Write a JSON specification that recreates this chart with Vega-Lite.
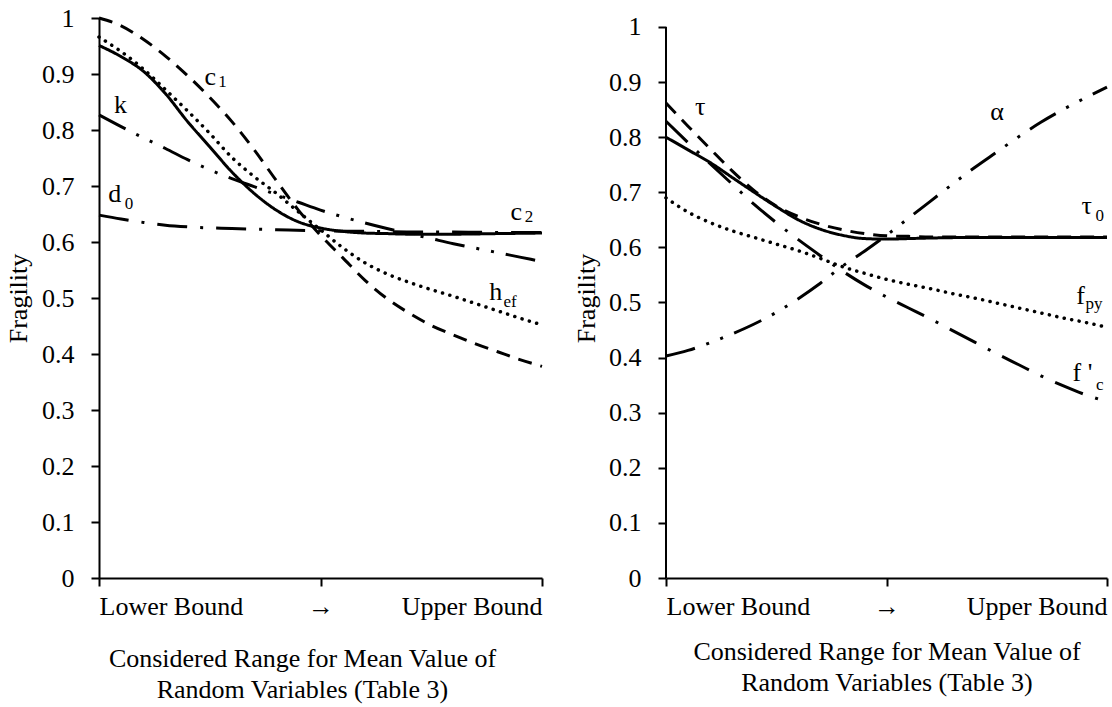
{
  "$schema": "https://vega.github.io/schema/vega-lite/v6.json",
  "background": "white",
  "padding": {"left": 5, "top": 5, "right": 5, "bottom": 5},
  "spacing": 124,
  "bounds": "flush",
  "config": {
    "view": {"stroke": null},
    "font": "Liberation Serif",
    "axis": {
      "grid": false,
      "domainColor": "black",
      "domainWidth": 2,
      "tickColor": "black",
      "tickWidth": 2,
      "tickSize": 8,
      "labelColor": "black",
      "labelFont": "Liberation Serif",
      "labelFontSize": 26,
      "titleColor": "black",
      "titleFont": "Liberation Serif",
      "titleFontSize": 26,
      "titleFontWeight": "normal"
    }
  },
  "datasets": {
    "leftLines": [
      {"s": "c1", "x": 0, "y": 1.0}, {"s": "c1", "x": 0.05, "y": 0.986}, {"s": "c1", "x": 0.1, "y": 0.962}, {"s": "c1", "x": 0.15, "y": 0.932}, {"s": "c1", "x": 0.2, "y": 0.897}, {"s": "c1", "x": 0.25, "y": 0.858}, {"s": "c1", "x": 0.3, "y": 0.815}, {"s": "c1", "x": 0.35, "y": 0.765}, {"s": "c1", "x": 0.4, "y": 0.71}, {"s": "c1", "x": 0.45, "y": 0.657}, {"s": "c1", "x": 0.5, "y": 0.612}, {"s": "c1", "x": 0.55, "y": 0.572}, {"s": "c1", "x": 0.6, "y": 0.532}, {"s": "c1", "x": 0.65, "y": 0.499}, {"s": "c1", "x": 0.7, "y": 0.473}, {"s": "c1", "x": 0.75, "y": 0.451}, {"s": "c1", "x": 0.8, "y": 0.434}, {"s": "c1", "x": 0.85, "y": 0.418}, {"s": "c1", "x": 0.9, "y": 0.404}, {"s": "c1", "x": 0.95, "y": 0.39}, {"s": "c1", "x": 1, "y": 0.378},
      {"s": "c2", "x": 0, "y": 0.951}, {"s": "c2", "x": 0.05, "y": 0.931}, {"s": "c2", "x": 0.1, "y": 0.905}, {"s": "c2", "x": 0.15, "y": 0.865}, {"s": "c2", "x": 0.2, "y": 0.815}, {"s": "c2", "x": 0.25, "y": 0.77}, {"s": "c2", "x": 0.3, "y": 0.725}, {"s": "c2", "x": 0.35, "y": 0.687}, {"s": "c2", "x": 0.4, "y": 0.657}, {"s": "c2", "x": 0.45, "y": 0.636}, {"s": "c2", "x": 0.5, "y": 0.625}, {"s": "c2", "x": 0.55, "y": 0.619}, {"s": "c2", "x": 0.6, "y": 0.616}, {"s": "c2", "x": 0.65, "y": 0.615}, {"s": "c2", "x": 0.7, "y": 0.614}, {"s": "c2", "x": 0.8, "y": 0.614}, {"s": "c2", "x": 0.9, "y": 0.615}, {"s": "c2", "x": 1, "y": 0.616},
      {"s": "h_ef", "x": 0, "y": 0.966}, {"s": "h_ef", "x": 0.05, "y": 0.94}, {"s": "h_ef", "x": 0.1, "y": 0.909}, {"s": "h_ef", "x": 0.15, "y": 0.872}, {"s": "h_ef", "x": 0.2, "y": 0.834}, {"s": "h_ef", "x": 0.25, "y": 0.794}, {"s": "h_ef", "x": 0.3, "y": 0.751}, {"s": "h_ef", "x": 0.35, "y": 0.717}, {"s": "h_ef", "x": 0.4, "y": 0.687}, {"s": "h_ef", "x": 0.45, "y": 0.654}, {"s": "h_ef", "x": 0.5, "y": 0.622}, {"s": "h_ef", "x": 0.55, "y": 0.59}, {"s": "h_ef", "x": 0.6, "y": 0.563}, {"s": "h_ef", "x": 0.65, "y": 0.543}, {"s": "h_ef", "x": 0.7, "y": 0.528}, {"s": "h_ef", "x": 0.75, "y": 0.515}, {"s": "h_ef", "x": 0.8, "y": 0.503}, {"s": "h_ef", "x": 0.85, "y": 0.49}, {"s": "h_ef", "x": 0.9, "y": 0.477}, {"s": "h_ef", "x": 0.95, "y": 0.464}, {"s": "h_ef", "x": 1, "y": 0.452},
      {"s": "k", "x": 0, "y": 0.827}, {"s": "k", "x": 0.05, "y": 0.806}, {"s": "k", "x": 0.1, "y": 0.786}, {"s": "k", "x": 0.15, "y": 0.767}, {"s": "k", "x": 0.2, "y": 0.747}, {"s": "k", "x": 0.25, "y": 0.729}, {"s": "k", "x": 0.3, "y": 0.713}, {"s": "k", "x": 0.35, "y": 0.699}, {"s": "k", "x": 0.4, "y": 0.685}, {"s": "k", "x": 0.45, "y": 0.671}, {"s": "k", "x": 0.5, "y": 0.657}, {"s": "k", "x": 0.55, "y": 0.645}, {"s": "k", "x": 0.6, "y": 0.634}, {"s": "k", "x": 0.65, "y": 0.624}, {"s": "k", "x": 0.7, "y": 0.615}, {"s": "k", "x": 0.75, "y": 0.606}, {"s": "k", "x": 0.8, "y": 0.597}, {"s": "k", "x": 0.85, "y": 0.589}, {"s": "k", "x": 0.9, "y": 0.581}, {"s": "k", "x": 0.95, "y": 0.573}, {"s": "k", "x": 1, "y": 0.565},
      {"s": "d0", "x": 0, "y": 0.648}, {"s": "d0", "x": 0.05, "y": 0.641}, {"s": "d0", "x": 0.1, "y": 0.635}, {"s": "d0", "x": 0.15, "y": 0.63}, {"s": "d0", "x": 0.2, "y": 0.627}, {"s": "d0", "x": 0.3, "y": 0.624}, {"s": "d0", "x": 0.4, "y": 0.622}, {"s": "d0", "x": 0.5, "y": 0.62}, {"s": "d0", "x": 0.6, "y": 0.619}, {"s": "d0", "x": 0.7, "y": 0.618}, {"s": "d0", "x": 0.8, "y": 0.618}, {"s": "d0", "x": 0.9, "y": 0.617}, {"s": "d0", "x": 1, "y": 0.617}
    ],
    "leftLabels": [
      {"t": "c", "x": 0.238, "y": 0.881},
      {"t": "k", "x": 0.034, "y": 0.83},
      {"t": "d", "x": 0.021, "y": 0.672},
      {"t": "c", "x": 0.929, "y": 0.64},
      {"t": "h", "x": 0.881, "y": 0.497}
    ],
    "leftSubs": [
      {"t": "1", "x": 0.269, "y": 0.876},
      {"t": "0", "x": 0.058, "y": 0.659},
      {"t": "2", "x": 0.961, "y": 0.635},
      {"t": "ef", "x": 0.913, "y": 0.484}
    ],
    "rightLines": [
      {"s": "tau", "x": 0, "y": 0.862}, {"s": "tau", "x": 0.05, "y": 0.82}, {"s": "tau", "x": 0.1, "y": 0.779}, {"s": "tau", "x": 0.15, "y": 0.739}, {"s": "tau", "x": 0.2, "y": 0.703}, {"s": "tau", "x": 0.25, "y": 0.675}, {"s": "tau", "x": 0.3, "y": 0.656}, {"s": "tau", "x": 0.35, "y": 0.642}, {"s": "tau", "x": 0.4, "y": 0.632}, {"s": "tau", "x": 0.45, "y": 0.625}, {"s": "tau", "x": 0.5, "y": 0.621}, {"s": "tau", "x": 0.55, "y": 0.62}, {"s": "tau", "x": 0.6, "y": 0.619}, {"s": "tau", "x": 0.7, "y": 0.619}, {"s": "tau", "x": 0.8, "y": 0.619}, {"s": "tau", "x": 0.9, "y": 0.619}, {"s": "tau", "x": 1, "y": 0.619},
      {"s": "tau0", "x": 0, "y": 0.8}, {"s": "tau0", "x": 0.05, "y": 0.777}, {"s": "tau0", "x": 0.1, "y": 0.754}, {"s": "tau0", "x": 0.15, "y": 0.727}, {"s": "tau0", "x": 0.2, "y": 0.7}, {"s": "tau0", "x": 0.25, "y": 0.674}, {"s": "tau0", "x": 0.3, "y": 0.65}, {"s": "tau0", "x": 0.35, "y": 0.633}, {"s": "tau0", "x": 0.4, "y": 0.622}, {"s": "tau0", "x": 0.45, "y": 0.616}, {"s": "tau0", "x": 0.5, "y": 0.615}, {"s": "tau0", "x": 0.55, "y": 0.616}, {"s": "tau0", "x": 0.6, "y": 0.617}, {"s": "tau0", "x": 0.7, "y": 0.618}, {"s": "tau0", "x": 0.8, "y": 0.618}, {"s": "tau0", "x": 0.9, "y": 0.618}, {"s": "tau0", "x": 1, "y": 0.618},
      {"s": "fc", "x": 0, "y": 0.829}, {"s": "fc", "x": 0.05, "y": 0.79}, {"s": "fc", "x": 0.1, "y": 0.752}, {"s": "fc", "x": 0.15, "y": 0.715}, {"s": "fc", "x": 0.2, "y": 0.678}, {"s": "fc", "x": 0.25, "y": 0.645}, {"s": "fc", "x": 0.3, "y": 0.614}, {"s": "fc", "x": 0.35, "y": 0.585}, {"s": "fc", "x": 0.4, "y": 0.557}, {"s": "fc", "x": 0.45, "y": 0.532}, {"s": "fc", "x": 0.5, "y": 0.51}, {"s": "fc", "x": 0.55, "y": 0.49}, {"s": "fc", "x": 0.6, "y": 0.47}, {"s": "fc", "x": 0.65, "y": 0.449}, {"s": "fc", "x": 0.7, "y": 0.428}, {"s": "fc", "x": 0.75, "y": 0.407}, {"s": "fc", "x": 0.8, "y": 0.387}, {"s": "fc", "x": 0.85, "y": 0.367}, {"s": "fc", "x": 0.9, "y": 0.349}, {"s": "fc", "x": 0.95, "y": 0.333}, {"s": "fc", "x": 1, "y": 0.32},
      {"s": "alpha", "x": 0, "y": 0.403}, {"s": "alpha", "x": 0.05, "y": 0.413}, {"s": "alpha", "x": 0.1, "y": 0.427}, {"s": "alpha", "x": 0.15, "y": 0.443}, {"s": "alpha", "x": 0.2, "y": 0.461}, {"s": "alpha", "x": 0.25, "y": 0.482}, {"s": "alpha", "x": 0.3, "y": 0.507}, {"s": "alpha", "x": 0.35, "y": 0.535}, {"s": "alpha", "x": 0.4, "y": 0.566}, {"s": "alpha", "x": 0.45, "y": 0.593}, {"s": "alpha", "x": 0.5, "y": 0.622}, {"s": "alpha", "x": 0.55, "y": 0.653}, {"s": "alpha", "x": 0.6, "y": 0.684}, {"s": "alpha", "x": 0.65, "y": 0.715}, {"s": "alpha", "x": 0.7, "y": 0.745}, {"s": "alpha", "x": 0.75, "y": 0.773}, {"s": "alpha", "x": 0.8, "y": 0.801}, {"s": "alpha", "x": 0.85, "y": 0.827}, {"s": "alpha", "x": 0.9, "y": 0.85}, {"s": "alpha", "x": 0.95, "y": 0.871}, {"s": "alpha", "x": 1, "y": 0.891},
      {"s": "f_py", "x": 0, "y": 0.69}, {"s": "f_py", "x": 0.05, "y": 0.664}, {"s": "f_py", "x": 0.1, "y": 0.645}, {"s": "f_py", "x": 0.15, "y": 0.63}, {"s": "f_py", "x": 0.2, "y": 0.618}, {"s": "f_py", "x": 0.25, "y": 0.606}, {"s": "f_py", "x": 0.3, "y": 0.594}, {"s": "f_py", "x": 0.35, "y": 0.58}, {"s": "f_py", "x": 0.4, "y": 0.565}, {"s": "f_py", "x": 0.45, "y": 0.553}, {"s": "f_py", "x": 0.5, "y": 0.542}, {"s": "f_py", "x": 0.55, "y": 0.533}, {"s": "f_py", "x": 0.6, "y": 0.525}, {"s": "f_py", "x": 0.65, "y": 0.516}, {"s": "f_py", "x": 0.7, "y": 0.508}, {"s": "f_py", "x": 0.75, "y": 0.499}, {"s": "f_py", "x": 0.8, "y": 0.49}, {"s": "f_py", "x": 0.85, "y": 0.481}, {"s": "f_py", "x": 0.9, "y": 0.472}, {"s": "f_py", "x": 0.95, "y": 0.464}, {"s": "f_py", "x": 1, "y": 0.455}
    ],
    "rightLabels": [
      {"t": "τ", "x": 0.066, "y": 0.84},
      {"t": "α", "x": 0.735, "y": 0.832},
      {"t": "τ", "x": 0.942, "y": 0.66},
      {"t": "f", "x": 0.93, "y": 0.497},
      {"t": "f '", "x": 0.922, "y": 0.358}
    ],
    "rightSubs": [
      {"t": "0", "x": 0.974, "y": 0.648},
      {"t": "py", "x": 0.951, "y": 0.488},
      {"t": "c", "x": 0.975, "y": 0.342}
    ]
  },
  "hconcat": [
    {
      "width": 443,
      "height": 560,
      "encoding": {
        "x": {
          "field": "x", "type": "quantitative",
          "scale": {"domain": [0, 1], "nice": false, "zero": false},
          "axis": {
            "values": [0, 0.5, 1],
            "labelExpr": "datum.value == 0 ? 'Lower Bound' : (datum.value == 1 ? 'Upper Bound' : '→')",
            "labelFlush": true,
            "labelPadding": 7,
            "title": ["Considered Range for Mean Value of", "Random Variables (Table 3)"],
            "titlePadding": 26,
            "titleLineHeight": 31,
            "titleX": 203
          }
        },
        "y": {
          "field": "y", "type": "quantitative",
          "scale": {"domain": [0, 1], "nice": false, "zero": false},
          "axis": {
            "values": [0, 0.1, 0.2, 0.3, 0.4, 0.5, 0.6, 0.7, 0.8, 0.9, 1],
            "format": "~g",
            "labelPadding": 17,
            "title": "Fragility",
            "titlePadding": 10
          }
        }
      },
      "layer": [
        {
          "data": {"name": "leftLines"},
          "transform": [{"filter": "datum.s != 'h_ef'"}],
          "mark": {"type": "line", "color": "black", "strokeWidth": 3, "interpolate": "monotone", "strokeCap": "butt"},
          "encoding": {
            "detail": {"field": "s", "type": "nominal"},
            "strokeDash": {
              "field": "s", "type": "nominal", "legend": null,
              "scale": {"domain": ["c2", "c1", "k", "d0"], "range": [[1, 0], [14, 9], [30, 12, 3, 12, 3, 12], [30, 13, 3, 13]]}
            }
          }
        },
        {
          "data": {"name": "leftLines"},
          "transform": [{"filter": "datum.s == 'h_ef'"}],
          "mark": {"type": "line", "color": "black", "strokeWidth": 3.5, "interpolate": "monotone", "strokeCap": "round", "strokeDash": [0.1, 7.5]},
          "encoding": {}
        },
        {
          "data": {"name": "leftLabels"},
          "mark": {"type": "text", "align": "left", "baseline": "alphabetic", "fontSize": 26, "font": "Liberation Serif", "color": "black"},
          "encoding": {"text": {"field": "t"}}
        },
        {
          "data": {"name": "leftSubs"},
          "mark": {"type": "text", "align": "left", "baseline": "alphabetic", "fontSize": 17, "font": "Liberation Serif", "color": "black"},
          "encoding": {"text": {"field": "t"}}
        }
      ]
    },
    {
      "width": 441,
      "height": 560,
      "encoding": {
        "x": {
          "field": "x", "type": "quantitative",
          "scale": {"domain": [0, 1], "nice": false, "zero": false},
          "axis": {
            "values": [0, 0.5, 1],
            "labelExpr": "datum.value == 0 ? 'Lower Bound' : (datum.value == 1 ? 'Upper Bound' : '→')",
            "labelFlush": true,
            "labelPadding": 7,
            "title": ["Considered Range for Mean Value of", "Random Variables (Table 3)"],
            "titlePadding": 19,
            "titleLineHeight": 31
          }
        },
        "y": {
          "field": "y", "type": "quantitative",
          "scale": {"domain": [0, 1.0163], "nice": false, "zero": false},
          "axis": {
            "values": [0, 0.1, 0.2, 0.3, 0.4, 0.5, 0.6, 0.7, 0.8, 0.9, 1],
            "format": "~g",
            "domain": false,
            "labelPadding": 17,
            "title": "Fragility",
            "titlePadding": 9
          }
        }
      },
      "layer": [
        {
          "data": {"values": [{"x": 0, "y": 0, "y2": 1}]},
          "mark": {"type": "rule", "color": "black", "strokeWidth": 2},
          "encoding": {"y2": {"field": "y2"}}
        },
        {
          "data": {"name": "rightLines"},
          "transform": [{"filter": "datum.s != 'f_py'"}],
          "mark": {"type": "line", "color": "black", "strokeWidth": 3, "interpolate": "monotone", "strokeCap": "butt"},
          "encoding": {
            "detail": {"field": "s", "type": "nominal"},
            "strokeDash": {
              "field": "s", "type": "nominal", "legend": null,
              "scale": {"domain": ["tau0", "tau", "alpha", "fc"], "range": [[1, 0], [14, 9], [30, 13, 3, 13], [30, 13, 3, 13]]}
            }
          }
        },
        {
          "data": {"name": "rightLines"},
          "transform": [{"filter": "datum.s == 'f_py'"}],
          "mark": {"type": "line", "color": "black", "strokeWidth": 3.5, "interpolate": "monotone", "strokeCap": "round", "strokeDash": [0.1, 7.5]},
          "encoding": {}
        },
        {
          "data": {"name": "rightLabels"},
          "mark": {"type": "text", "align": "left", "baseline": "alphabetic", "fontSize": 26, "font": "Liberation Serif", "color": "black"},
          "encoding": {"text": {"field": "t"}}
        },
        {
          "data": {"name": "rightSubs"},
          "mark": {"type": "text", "align": "left", "baseline": "alphabetic", "fontSize": 17, "font": "Liberation Serif", "color": "black"},
          "encoding": {"text": {"field": "t"}}
        }
      ]
    }
  ]
}
